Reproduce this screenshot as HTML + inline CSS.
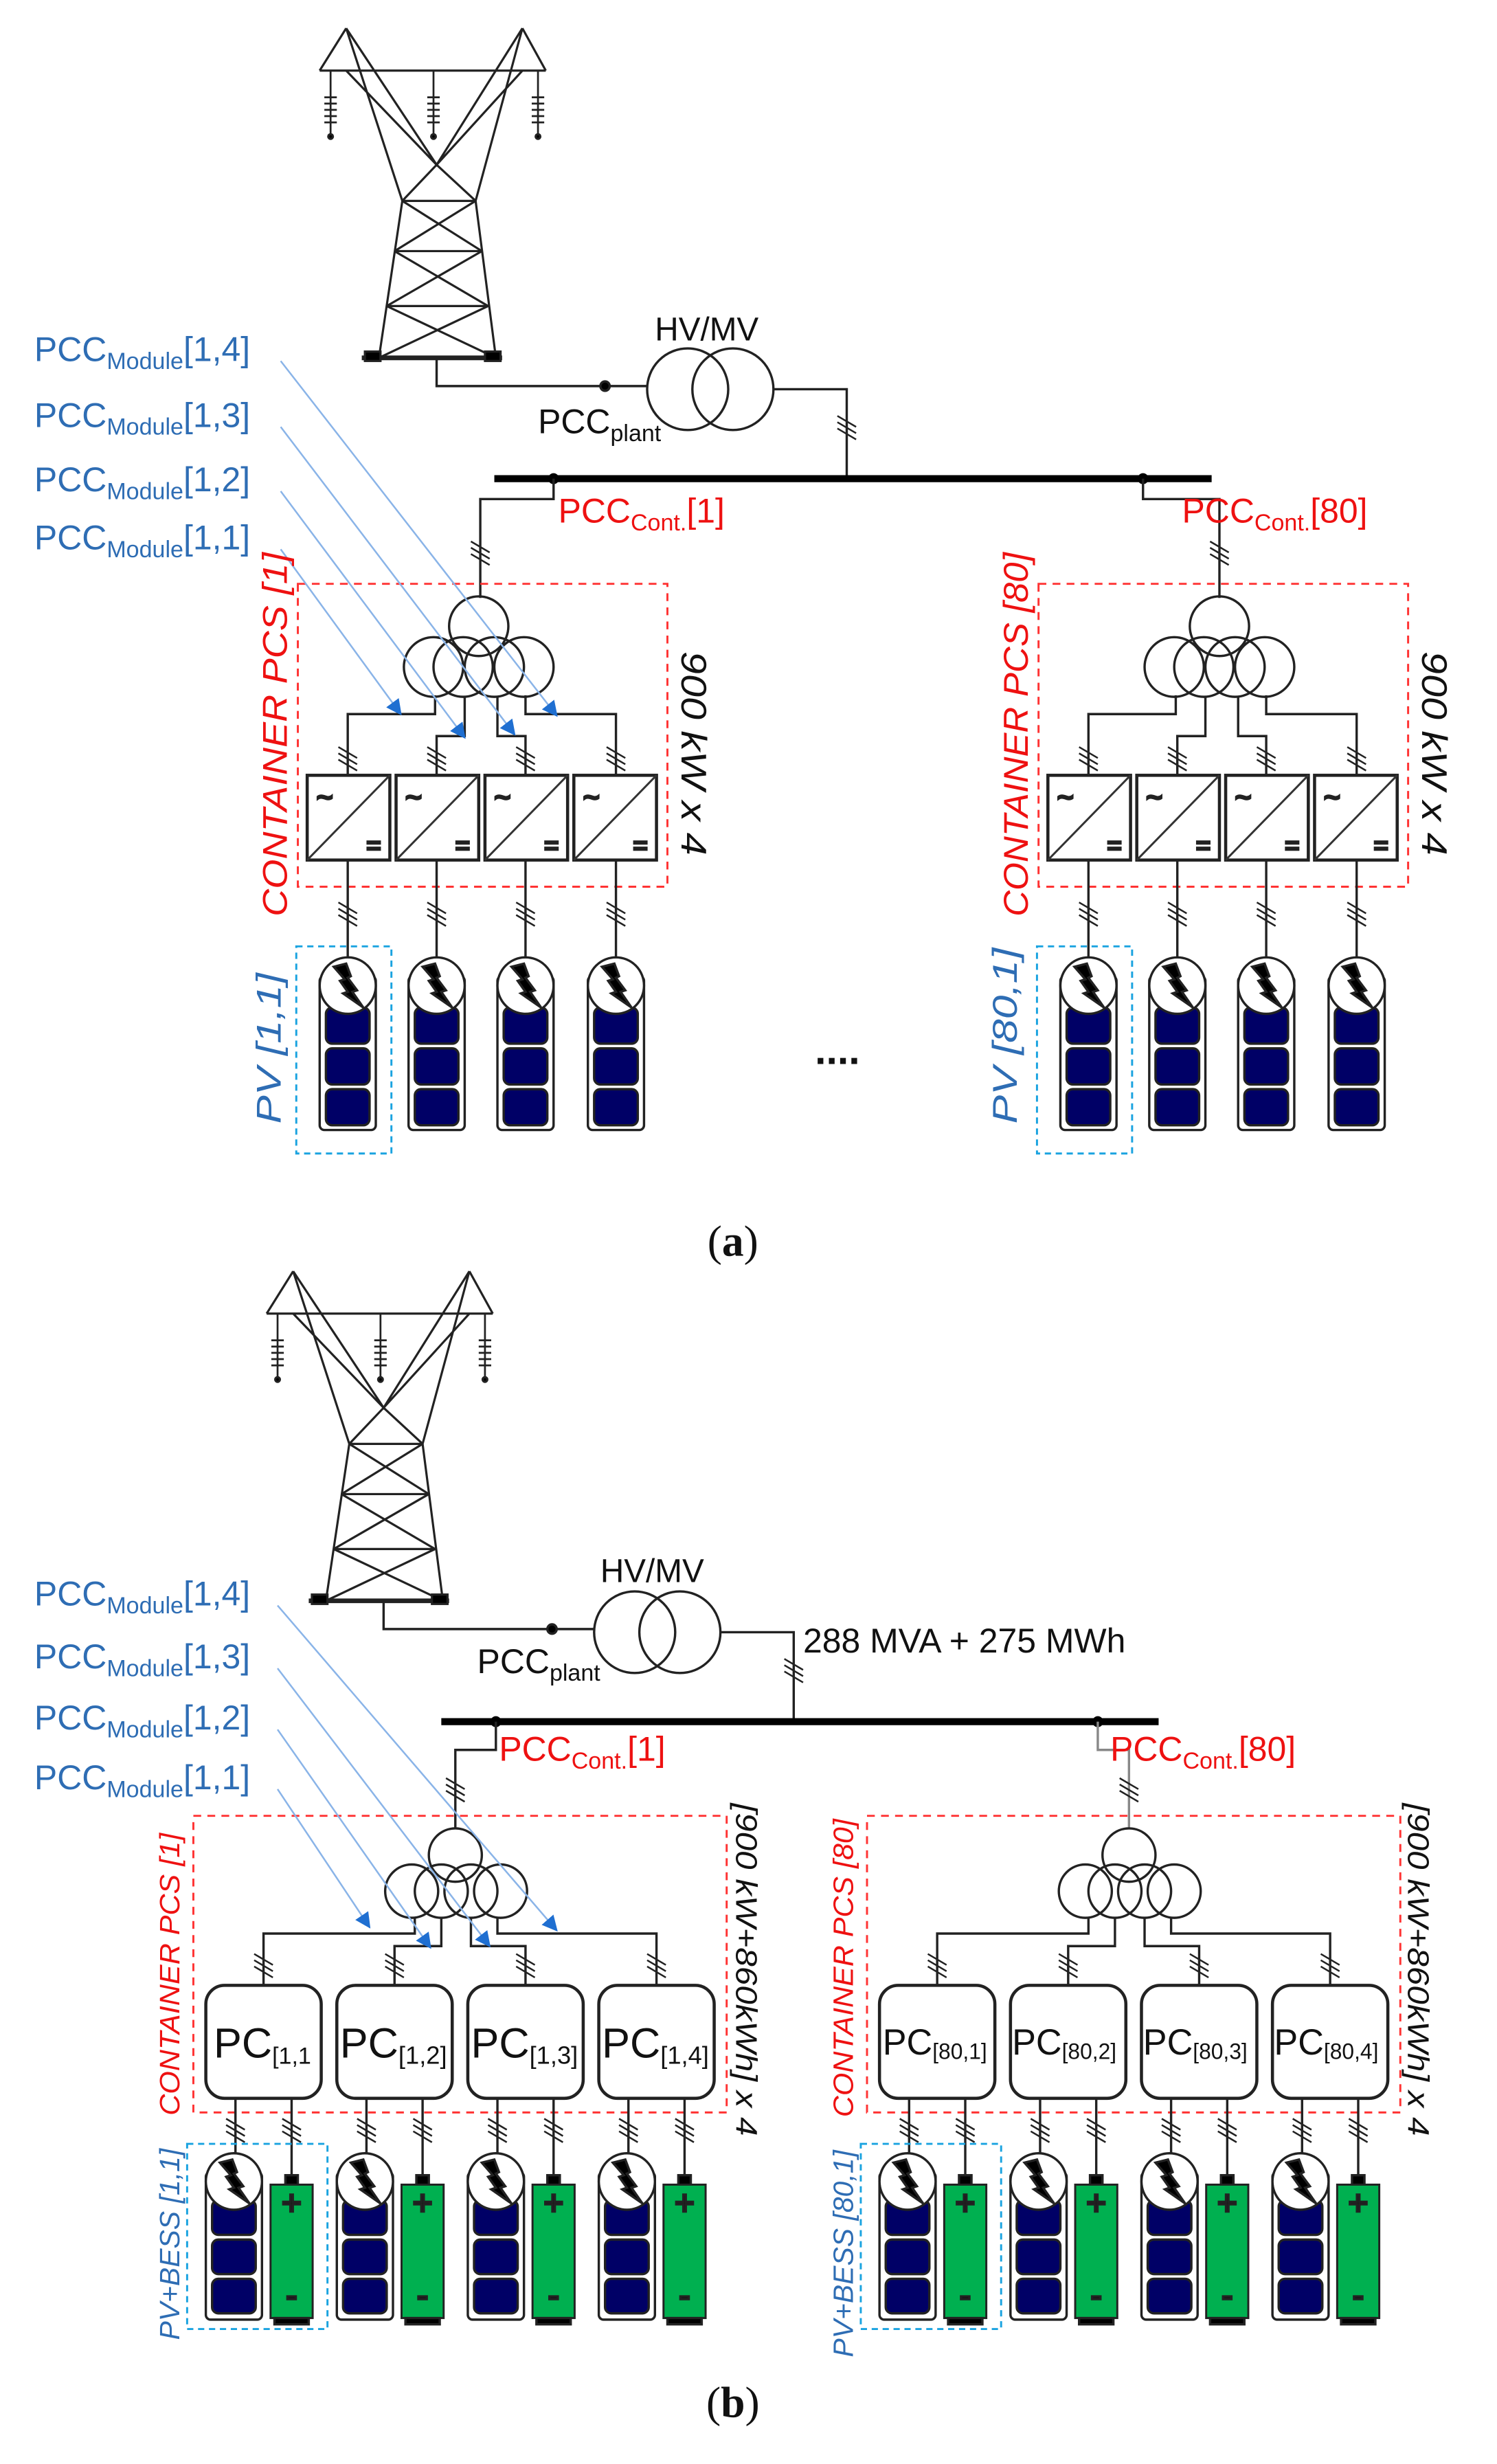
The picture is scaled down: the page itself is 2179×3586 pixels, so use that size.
<!DOCTYPE html>
<html><head><meta charset="utf-8"><style>
html,body{margin:0;padding:0;background:#fff}
svg{display:block}
text{font-family:"Liberation Sans",sans-serif}
</style></head><body>
<svg width="2179" height="3586" viewBox="0 0 960 1570" preserveAspectRatio="none" xmlns="http://www.w3.org/2000/svg">
<defs>
<g id="hash" stroke="#222" stroke-width="1.1"><line x1="-6" y1="-7" x2="6" y2="0"/><line x1="-6" y1="-3" x2="6" y2="4"/><line x1="-6" y1="1" x2="6" y2="8"/></g>
<g id="inv"><rect x="0" y="0" width="53" height="54" fill="#fff" stroke="#222" stroke-width="2"/><line x1="0" y1="54" x2="53" y2="0" stroke="#333" stroke-width="1.3"/><text x="6" y="20" font-size="18">~</text><text x="38" y="50" font-size="16">=</text></g>
<g id="bolt"><polygon points="-9,-12 -1,-14 2,-6 0,-5 6,3 3,4 10,14 -3,5 0,4 -5,-3 -2,-4" fill="#000"/></g>
<g id="pv"><rect x="-18" y="-6" width="36" height="98" rx="3" fill="#fff" stroke="#222" stroke-width="1.5"/>
<rect x="-14" y="14" width="28" height="23" rx="4" fill="#000066"/><rect x="-14" y="40" width="28" height="23" rx="4" fill="#000066"/><rect x="-14" y="66" width="28" height="23" rx="4" fill="#000066"/>
<circle cx="0" cy="0" r="18" fill="#fff" stroke="#222" stroke-width="1.5"/><use href="#bolt"/></g>
<g id="pvb"><rect x="-18" y="-6" width="36" height="94" rx="3" fill="#fff" stroke="#222" stroke-width="1.5"/>
<rect x="-14" y="12" width="28" height="22" rx="4" fill="#000066"/><rect x="-14" y="37" width="28" height="22" rx="4" fill="#000066"/><rect x="-14" y="62" width="28" height="22" rx="4" fill="#000066"/>
<circle cx="0" cy="0" r="18" fill="#fff" stroke="#222" stroke-width="1.5"/><use href="#bolt"/></g>
<g id="bat"><rect x="-4" y="-6" width="8" height="7" fill="#000"/><rect x="-13.5" y="0" width="27" height="85" fill="#00b050" stroke="#222" stroke-width="1.3"/><rect x="-11" y="85" width="22" height="4" fill="#000"/>
<text x="0" y="19" font-size="22" text-anchor="middle" fill="#000">+</text><text x="0" y="78" font-size="22" text-anchor="middle" fill="#000">-</text></g>
<g id="tower" fill="none" stroke="#222" stroke-width="1.4">
<path d="M222,18 L258,128 L243,228 M335,18 L305,128 L318,228 M222,18 L280,105 L335,18 M205,45 H350 M205,45 L222,18 M350,45 L335,18 M222,45 L280,105 M335,45 L280,105"/>
<path d="M258,128 H305 M253,160 H309 M248,195 H313 M258,128 L309,160 M305,128 L253,160 M253,160 L313,195 M309,160 L248,195 M248,195 L318,228 M313,195 L243,228 M280,105 L258,128 M280,105 L305,128"/>
<g stroke-width="1.2"><path d="M212,45 V85 M278,45 V85 M345,45 V85"/>
<path d="M208,62 H216 M208,66 H216 M208,70 H216 M208,74 H216 M208,78 H216 M274,62 H282 M274,66 H282 M274,70 H282 M274,74 H282 M274,78 H282 M341,62 H349 M341,66 H349 M341,70 H349 M341,74 H349 M341,78 H349"/></g>
<circle cx="212" cy="87" r="1.5" fill="#000"/><circle cx="278" cy="87" r="1.5" fill="#000"/><circle cx="345" cy="87" r="1.5" fill="#000"/>
<line x1="232" y1="228" x2="322" y2="228" stroke-width="3"/><rect x="234" y="224" width="10" height="6" fill="#000"/><rect x="311" y="224" width="10" height="6" fill="#000"/>
</g>
<g id="plant" fill="none" stroke="#222" stroke-width="1.5">
<path d="M280,228 V246 H415"/><circle cx="388" cy="246" r="3" fill="#000"/>
<circle cx="441" cy="248" r="26"/><circle cx="470" cy="248" r="26"/>
<path d="M496,248 H543 V305"/><use href="#hash" x="543" y="272"/>
<line x1="317" y1="305" x2="777" y2="305" stroke="#000" stroke-width="4.5"/>
</g>
<g id="contA" fill="none" stroke="#222" stroke-width="1.5">
<rect x="191" y="372" width="237" height="193" stroke="#ff3333" stroke-dasharray="5,4" stroke-width="1.3"/>
<circle cx="307" cy="399" r="19"/><circle cx="278" cy="425" r="19"/><circle cx="297" cy="425" r="19"/><circle cx="317" cy="425" r="19"/><circle cx="336" cy="425" r="19"/>
<path d="M279,443 V455 H223 V494 M298,444 V469 H280 V494 M319,444 V469 H337 V494 M337,443 V455 H395 V494"/>
<use href="#hash" x="223" y="483"/><use href="#hash" x="280" y="483"/><use href="#hash" x="337" y="483"/><use href="#hash" x="395" y="483"/>
<use href="#inv" x="197" y="494"/><use href="#inv" x="254" y="494"/><use href="#inv" x="311" y="494"/><use href="#inv" x="368" y="494"/>
<path d="M223,548 V610 M280,548 V610 M337,548 V610 M395,548 V610"/>
<use href="#hash" x="223" y="582"/><use href="#hash" x="280" y="582"/><use href="#hash" x="337" y="582"/><use href="#hash" x="395" y="582"/>
<use href="#pv" x="223" y="628"/><use href="#pv" x="280" y="628"/><use href="#pv" x="337" y="628"/><use href="#pv" x="395" y="628"/>
<rect x="190" y="603" width="61" height="132" stroke="#1aa3e0" stroke-dasharray="4,3" stroke-width="1.3"/>
</g>
<g id="contB" fill="none" stroke="#222" stroke-width="1.5">
<rect x="124" y="1157" width="342" height="189" stroke="#ff3333" stroke-dasharray="5,4" stroke-width="1.3"/>
<circle cx="292" cy="1182" r="17"/><circle cx="264" cy="1205" r="17"/><circle cx="283" cy="1205" r="17"/><circle cx="302" cy="1205" r="17"/><circle cx="321" cy="1205" r="17"/>
<path d="M266,1222 V1232 H169 V1265 M283,1222 V1240 H253 V1265 M302,1222 V1240 H337 V1265 M319,1222 V1232 H421 V1265"/>
<use href="#hash" x="169" y="1252"/><use href="#hash" x="253" y="1252"/><use href="#hash" x="337" y="1252"/><use href="#hash" x="421" y="1252"/>
<rect x="132" y="1265" width="74" height="72" rx="12" fill="#fff" stroke-width="2"/><rect x="216" y="1265" width="74" height="72" rx="12" fill="#fff" stroke-width="2"/><rect x="300" y="1265" width="74" height="72" rx="12" fill="#fff" stroke-width="2"/><rect x="384" y="1265" width="74" height="72" rx="12" fill="#fff" stroke-width="2"/>
<path d="M151,1337 V1372 M187,1337 V1386 M235,1337 V1372 M271,1337 V1386 M319,1337 V1372 M355,1337 V1386 M403,1337 V1372 M439,1337 V1386"/>
<use href="#hash" x="151" y="1357"/><use href="#hash" x="187" y="1357"/><use href="#hash" x="235" y="1357"/><use href="#hash" x="271" y="1357"/><use href="#hash" x="319" y="1357"/><use href="#hash" x="355" y="1357"/><use href="#hash" x="403" y="1357"/><use href="#hash" x="439" y="1357"/>
<use href="#pvb" x="150" y="1390"/><use href="#pvb" x="234" y="1390"/><use href="#pvb" x="318" y="1390"/><use href="#pvb" x="402" y="1390"/>
<use href="#bat" x="187" y="1392"/><use href="#bat" x="271" y="1392"/><use href="#bat" x="355" y="1392"/><use href="#bat" x="439" y="1392"/>
<rect x="120" y="1366" width="90" height="118" stroke="#1aa3e0" stroke-dasharray="4,3" stroke-width="1.3"/>
</g>
<marker id="ah" markerWidth="10" markerHeight="10" refX="9" refY="5" orient="auto" markerUnits="userSpaceOnUse"><polygon points="0,0 10,5 0,10" fill="#1f6fd1"/></marker>
</defs>

<!-- Panel (a) -->
<use href="#tower"/>
<use href="#plant"/>
<text x="420" y="217" font-size="21" fill="#111">HV/MV</text>
<text x="345" y="276" font-size="22" fill="#111">PCC<tspan font-size="15" dy="5">plant</tspan></text>
<circle cx="355" cy="305" r="3.5" fill="#000"/><circle cx="733" cy="305" r="3.5" fill="#000"/>
<path d="M355,305 V318 H308 V381 M733,305 V318 H782 V381" fill="none" stroke="#222" stroke-width="1.5"/>
<use href="#hash" x="308" y="352"/><use href="#hash" x="782" y="352"/>
<text x="358" y="333" font-size="22" fill="#ee1111">PCC<tspan font-size="15" dy="5">Cont.</tspan><tspan dy="-5">[1]</tspan></text>
<text x="758" y="333" font-size="22" fill="#ee1111">PCC<tspan font-size="15" dy="5">Cont.</tspan><tspan dy="-5">[80]</tspan></text>
<use href="#contA"/>
<use href="#contA" x="475"/>
<g font-size="22" fill="#2e6db4">
<text x="22" y="230">PCC<tspan font-size="15" dy="5">Module</tspan><tspan dy="-5">[1,4]</tspan></text>
<text x="22" y="272">PCC<tspan font-size="15" dy="5">Module</tspan><tspan dy="-5">[1,3]</tspan></text>
<text x="22" y="313">PCC<tspan font-size="15" dy="5">Module</tspan><tspan dy="-5">[1,2]</tspan></text>
<text x="22" y="350">PCC<tspan font-size="15" dy="5">Module</tspan><tspan dy="-5">[1,1]</tspan></text>
</g>
<g stroke="#8ab4e8" stroke-width="1.1" marker-end="url(#ah)">
<line x1="180" y1="230" x2="357" y2="456"/><line x1="180" y1="272" x2="330" y2="468"/><line x1="180" y1="313" x2="298" y2="470"/><line x1="180" y1="350" x2="257" y2="455"/>
</g>
<g font-style="italic">
<text transform="translate(184,468) rotate(-90)" font-size="22" fill="#ee1111" text-anchor="middle" textLength="232" lengthAdjust="spacingAndGlyphs">CONTAINER PCS [1]</text>
<text transform="translate(659,468) rotate(-90)" font-size="22" fill="#ee1111" text-anchor="middle" textLength="232" lengthAdjust="spacingAndGlyphs">CONTAINER PCS [80]</text>
<text transform="translate(180,668) rotate(-90)" font-size="22" fill="#2e6db4" text-anchor="middle" textLength="96" lengthAdjust="spacingAndGlyphs">PV [1,1]</text>
<text transform="translate(652,660) rotate(-90)" font-size="22" fill="#2e6db4" text-anchor="middle" textLength="112" lengthAdjust="spacingAndGlyphs">PV [80,1]</text>
<text transform="translate(437,480) rotate(90)" font-size="23" fill="#111" text-anchor="middle" textLength="130" lengthAdjust="spacingAndGlyphs">900 kW x 4</text>
<text transform="translate(912,480) rotate(90)" font-size="23" fill="#111" text-anchor="middle" textLength="130" lengthAdjust="spacingAndGlyphs">900 kW x 4</text>
</g>
<text x="537" y="678" font-size="26" font-weight="bold" text-anchor="middle" fill="#111">....</text>
<text x="470" y="800" font-size="28" text-anchor="middle" fill="#111" style="font-family:'Liberation Serif',serif">(<tspan font-weight="bold">a</tspan>)</text>

<!-- Panel (b) -->
<use href="#tower" x="-34" y="792"/>
<use href="#plant" x="-34" y="792"/>
<text x="385" y="1008" font-size="21" fill="#111">HV/MV</text>
<text x="306" y="1066" font-size="22" fill="#111">PCC<tspan font-size="15" dy="5">plant</tspan></text>
<text x="515" y="1053" font-size="22" fill="#111">288 MVA + 275 MWh</text>
<circle cx="318" cy="1097" r="3.5" fill="#000"/><circle cx="704" cy="1097" r="3.5" fill="#000"/>
<path d="M318,1097 V1115 H292 V1165" fill="none" stroke="#222" stroke-width="1.5"/>
<path d="M704,1097 V1115 H724 V1165" fill="none" stroke="#888" stroke-width="1.5"/>
<use href="#hash" x="292" y="1140"/><use href="#hash" x="724" y="1140"/>
<text x="320" y="1122" font-size="22" fill="#ee1111">PCC<tspan font-size="15" dy="5">Cont.</tspan><tspan dy="-5">[1]</tspan></text>
<text x="712" y="1122" font-size="22" fill="#ee1111">PCC<tspan font-size="15" dy="5">Cont.</tspan><tspan dy="-5">[80]</tspan></text>
<use href="#contB"/>
<use href="#contB" x="432"/>
<g font-size="27" fill="#111">
<text x="137" y="1311">PC<tspan font-size="15" dy="4">[1,1</tspan></text>
<text x="218" y="1311">PC<tspan font-size="16" dy="4">[1,2]</tspan></text>
<text x="302" y="1311">PC<tspan font-size="16" dy="4">[1,3]</tspan></text>
<text x="386" y="1311">PC<tspan font-size="16" dy="4">[1,4]</tspan></text>
</g>
<g font-size="23" fill="#111">
<text x="566" y="1309">PC<tspan font-size="14" dy="3">[80,1]</tspan></text>
<text x="649" y="1309">PC<tspan font-size="14" dy="3">[80,2]</tspan></text>
<text x="733" y="1309">PC<tspan font-size="14" dy="3">[80,3]</tspan></text>
<text x="817" y="1309">PC<tspan font-size="14" dy="3">[80,4]</tspan></text>
</g>
<g font-size="22" fill="#2e6db4">
<text x="22" y="1023">PCC<tspan font-size="15" dy="5">Module</tspan><tspan dy="-5">[1,4]</tspan></text>
<text x="22" y="1063">PCC<tspan font-size="15" dy="5">Module</tspan><tspan dy="-5">[1,3]</tspan></text>
<text x="22" y="1102">PCC<tspan font-size="15" dy="5">Module</tspan><tspan dy="-5">[1,2]</tspan></text>
<text x="22" y="1140">PCC<tspan font-size="15" dy="5">Module</tspan><tspan dy="-5">[1,1]</tspan></text>
</g>
<g stroke="#8ab4e8" stroke-width="1.1" marker-end="url(#ah)">
<line x1="178" y1="1023" x2="357" y2="1230"/><line x1="178" y1="1063" x2="314" y2="1240"/><line x1="178" y1="1102" x2="276" y2="1241"/><line x1="178" y1="1140" x2="237" y2="1228"/>
</g>
<g font-style="italic">
<text transform="translate(115,1258) rotate(-90)" font-size="18" fill="#ee1111" text-anchor="middle" textLength="180" lengthAdjust="spacingAndGlyphs">CONTAINER PCS [1]</text>
<text transform="translate(547,1254) rotate(-90)" font-size="18" fill="#ee1111" text-anchor="middle" textLength="190" lengthAdjust="spacingAndGlyphs">CONTAINER PCS [80]</text>
<text transform="translate(115,1430) rotate(-90)" font-size="18" fill="#2e6db4" text-anchor="middle" textLength="122" lengthAdjust="spacingAndGlyphs">PV+BESS [1,1]</text>
<text transform="translate(547,1436) rotate(-90)" font-size="18" fill="#2e6db4" text-anchor="middle" textLength="132" lengthAdjust="spacingAndGlyphs">PV+BESS [80,1]</text>
<text transform="translate(472,1255) rotate(90)" font-size="19" fill="#111" text-anchor="middle" textLength="212" lengthAdjust="spacingAndGlyphs">[900 kW+860kWh] x 4</text>
<text transform="translate(903,1255) rotate(90)" font-size="19" fill="#111" text-anchor="middle" textLength="212" lengthAdjust="spacingAndGlyphs">[900 kW+860kWh] x 4</text>
</g>
<text x="470" y="1540" font-size="28" text-anchor="middle" fill="#111" style="font-family:'Liberation Serif',serif">(<tspan font-weight="bold">b</tspan>)</text>
</svg>
</body></html>
